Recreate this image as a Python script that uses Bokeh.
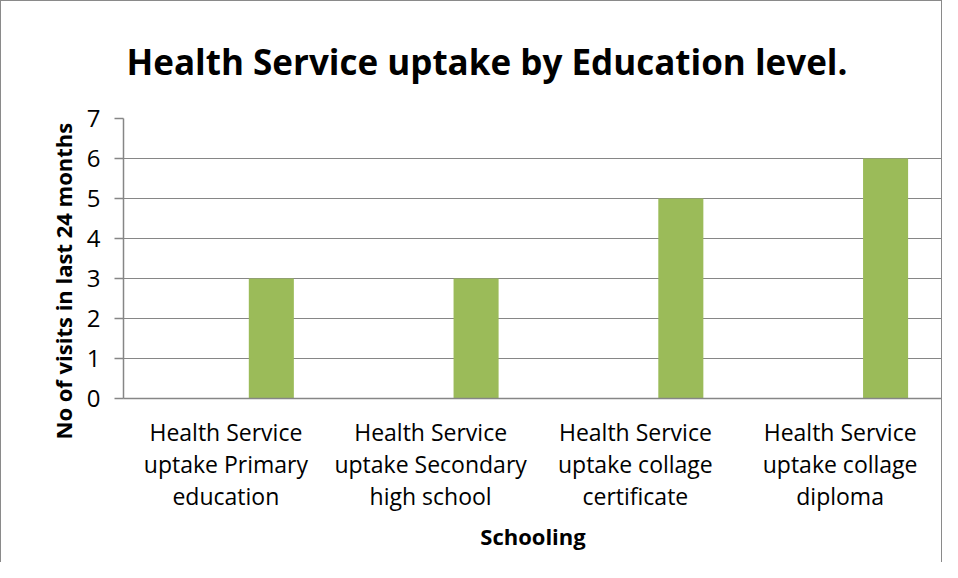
from bokeh.plotting import figure
from bokeh.models import FixedTicker, Range1d, ColumnDataSource, Title
from bokeh.embed import file_html
from bokeh.resources import INLINE

categories = [
    "Health Service\nuptake Primary\neducation",
    "Health Service\nuptake Secondary\nhigh school",
    "Health Service\nuptake collage\ncertificate",
    "Health Service\nuptake collage\ndiploma",
]
visits = [3, 3, 5, 6]
y_ticks = [0, 1, 2, 3, 4, 5, 6, 7]

title_text = "Health Service uptake by Education level."
x_title = "Schooling"
y_title = "No of visits in last 24 months"

GRID = "#868686"
GREEN = "#9BBB59"
FONT = "Open Sans"

p = figure(width=942, height=562, output_backend="svg", toolbar_location=None,
           x_range=Range1d(0, len(categories)), y_range=Range1d(0, 7),
           min_border_left=122, min_border_right=1, min_border_top=116,
           min_border_bottom=165)
p.styles = {"border-left": "1px solid #8a8a8a", "border-top": "1px solid #8a8a8a",
            "border-right": "1px solid #8a8a8a", "box-sizing": "border-box"}

p.title.text = title_text
p.title.align = "left"
p.title.offset = 3
p.title.text_font = FONT
p.title.text_font_size = "35px"
p.title.text_font_style = "bold"
p.title.text_color = "black"
p.title.standoff = 68

pos = [i + 0.5 + 0.222 for i in range(len(categories))]
src = ColumnDataSource(dict(x=pos, top=visits))
p.vbar(x="x", top="top", bottom=0, width=0.22, source=src, fill_color=GREEN, line_color=None)

p.outline_line_color = None
p.xgrid.grid_line_color = None
p.ygrid.grid_line_color = GRID
p.ygrid.grid_line_width = 1
p.ygrid.ticker = FixedTicker(ticks=y_ticks)

xa = p.xaxis[0]
xa.ticker = FixedTicker(ticks=[i + 0.5 for i in range(len(categories))])
xa.major_label_overrides = {i + 0.5: c for i, c in enumerate(categories)}
xa.major_tick_line_color = None
xa.minor_tick_line_color = None
xa.axis_line_color = GRID
xa.axis_line_width = 1.5
xa.major_label_text_font = FONT
xa.major_label_text_font_size = "23px"
xa.major_label_text_color = "black"
xa.major_label_text_line_height = 1.0
xa.major_label_standoff = 11
xa.axis_label = x_title
xa.axis_label_text_font = FONT
xa.axis_label_text_font_size = "22px"
xa.axis_label_text_font_style = "bold"
xa.axis_label_text_color = "black"
xa.axis_label_standoff = 6

ya = p.yaxis[0]
ya.ticker = FixedTicker(ticks=y_ticks)
ya.minor_tick_line_color = None
ya.major_tick_line_color = GRID
ya.major_tick_in = 0
ya.major_tick_out = 9
ya.major_tick_line_width = 1.5
ya.axis_line_color = GRID
ya.axis_line_width = 1.5
ya.major_label_text_font = FONT
ya.major_label_text_font_size = "24px"
ya.major_label_text_color = "black"
ya.major_label_standoff = 14

ytitle = Title(text=y_title, align="left", offset=-41, text_font=FONT, text_font_size="22px",
               text_font_style="bold", text_color="black", standoff=12)
p.add_layout(ytitle, "left")

open("out.html", "w").write(file_html(p, INLINE))
